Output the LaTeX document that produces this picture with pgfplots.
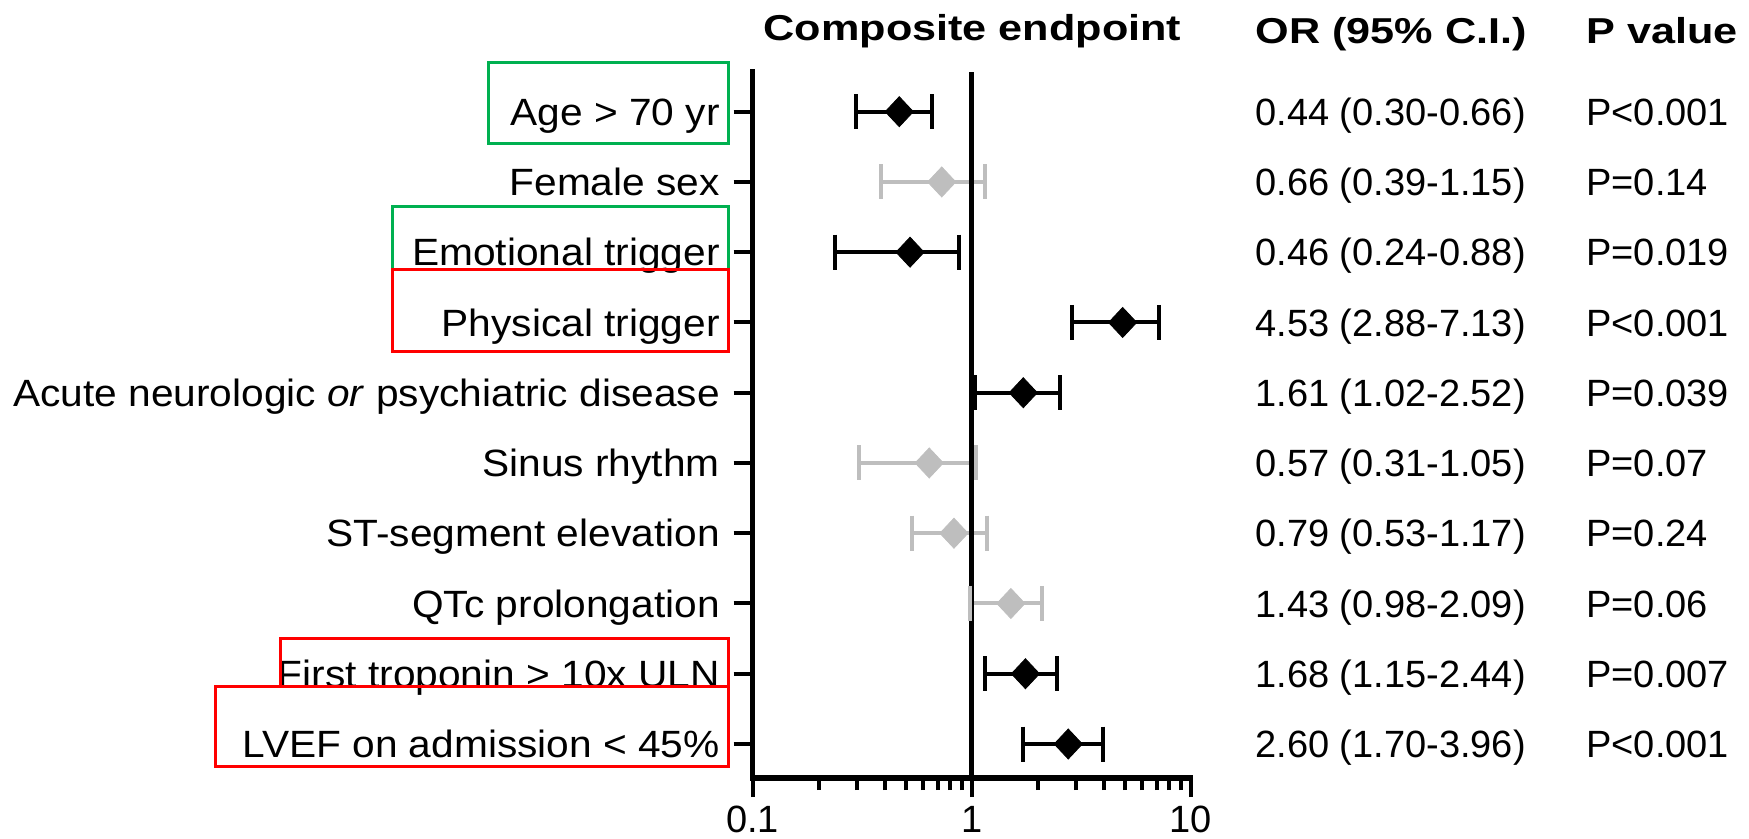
\documentclass[border=0pt]{standalone}
\usepackage{fontspec}
\setmainfont{Liberation Sans}
\newfontfamily\lblfont{Liberation Sans}[FakeStretch=1.07]
\newfontfamily\hdfont{Liberation Sans}[FakeStretch=1.2]
\usepackage{pgfplots}
\usepackage{pgfplotstable}
\pgfplotsset{compat=1.18}
\definecolor{nsgray}{RGB}{190,190,190}
\definecolor{boxgreen}{RGB}{0,176,80}
\definecolor{boxred}{RGB}{255,0,0}
\tikzset{col/.style={anchor=base west, inner sep=0pt, yshift=-6.8pt, font=\fontsize{19}{22}\selectfont}}

% significant rows (black): y position (10 = top row), odds ratio
\pgfplotstableread{
y or
10 0.467
8 0.523
7 4.89
6 1.72
2 1.76
1 2.76
}\sigdata
% confidence intervals of the significant rows (lower, upper; nan = break)
\pgfplotstableread{
x y
0.295 10
0.661 10
nan nan
0.237 8
0.875 8
nan nan
2.88 7
7.19 7
nan nan
1.03 6
2.53 6
nan nan
1.15 2
2.46 2
nan nan
1.72 1
3.99 1
}\sigci
% non-significant rows (grey)
\pgfplotstableread{
y or
9 0.73
5 0.64
4 0.83
3 1.51
}\nsdata
\pgfplotstableread{
x y
0.385 9
1.15 9
nan nan
0.307 5
1.05 5
nan nan
0.535 4
1.18 4
nan nan
0.98 3
2.10 3
}\nsci

\begin{document}
\begin{tikzpicture}
\useasboundingbox (0,0) rectangle (874.5pt,-419.5pt);
\begin{semilogxaxis}[
  at={(376.35pt,-389pt)}, anchor=south west,
  scale only axis, width=219pt, height=353pt,
  xmin=0.1, xmax=10, ymin=0.516, ymax=10.565,
  axis lines=left,
  axis line style={-, line width=2.7pt, line cap=rect},
  tick align=outside,
  major tick length=9.5pt, minor tick length=6pt,
  tick style={black, line width=2pt},
  xtick={0.1,1,10}, xticklabels={0.1,1,10},
  minor xtick={0.2,0.3,0.4,0.5,0.6,0.7,0.8,0.9,2,3,4,5,6,7,8,9},
  ytick={1,2,3,4,5,6,7,8,9,10},
  yticklabels={LVEF on admission < 45\%, First troponin > 10x ULN, QTc prolongation, ST-segment elevation, Sinus rhythm, Acute neurologic \textit{or} psychiatric disease, Physical trigger, Emotional trigger, Female sex, Age > 70 yr},
  yticklabel style={font=\lblfont\fontsize{19}{22}\selectfont, anchor=base east, inner sep=0pt, yshift=-6.8pt, xshift=-6.8pt},
  xticklabel style={font=\fontsize{19}{22}\selectfont, inner sep=0pt, yshift=-4.3pt},
  clip=false,
  unbounded coords=jump,
]
% grey (non-significant) confidence intervals and estimates
\addplot[nsgray, line width=2pt, mark=|, mark size=8.75pt, mark options={line width=2pt}] table[x=x, y=y] {\nsci};
\addplot[only marks, nsgray, mark=diamond*, mark size=7.5pt,
  mark options={xscale=1.25, fill=nsgray, draw=nsgray}] table[x=or, y=y] {\nsdata};
% reference line at OR = 1
\addplot[black, line width=2.3pt, forget plot] coordinates {(1,0.516) (1,10.565)};
% black (significant) confidence intervals and estimates
\addplot[black, line width=2pt, mark=|, mark size=8.75pt, mark options={line width=2pt}] table[x=x, y=y] {\sigci};
\addplot[only marks, black, mark=diamond*, mark size=7.5pt,
  mark options={xscale=1.25, fill=black, draw=black}] table[x=or, y=y] {\sigdata};

% OR and P value columns
\node[col] at (axis cs:19.67,10) {0.44 (0.30-0.66)};
\node[col] at (axis cs:19.67,9) {0.66 (0.39-1.15)};
\node[col] at (axis cs:19.67,8) {0.46 (0.24-0.88)};
\node[col] at (axis cs:19.67,7) {4.53 (2.88-7.13)};
\node[col] at (axis cs:19.67,6) {1.61 (1.02-2.52)};
\node[col] at (axis cs:19.67,5) {0.57 (0.31-1.05)};
\node[col] at (axis cs:19.67,4) {0.79 (0.53-1.17)};
\node[col] at (axis cs:19.67,3) {1.43 (0.98-2.09)};
\node[col] at (axis cs:19.67,2) {1.68 (1.15-2.44)};
\node[col] at (axis cs:19.67,1) {2.60 (1.70-3.96)};
\node[col] at (axis cs:638,10) {P<0.001};
\node[col] at (axis cs:638,9) {P=0.14};
\node[col] at (axis cs:638,8) {P=0.019};
\node[col] at (axis cs:638,7) {P<0.001};
\node[col] at (axis cs:638,6) {P=0.039};
\node[col] at (axis cs:638,5) {P=0.07};
\node[col] at (axis cs:638,4) {P=0.24};
\node[col] at (axis cs:638,3) {P=0.06};
\node[col] at (axis cs:638,2) {P=0.007};
\node[col] at (axis cs:638,1) {P<0.001};
\end{semilogxaxis}

% column headers
\node[anchor=base, inner sep=0pt, font=\hdfont\bfseries\fontsize{18}{21}\selectfont] at (486.25pt,-20.5pt) {Composite endpoint};
\node[anchor=base west, inner sep=0pt, font=\hdfont\bfseries\fontsize{18}{21}\selectfont] at (627.5pt,-22pt) {OR (95\% C.I.)};
\node[anchor=base west, inner sep=0pt, font=\hdfont\bfseries\fontsize{18}{21}\selectfont] at (793pt,-22pt) {P value};

% highlight boxes around labels
\draw[boxgreen, line width=1.5pt] (244pt,-31.15pt) rectangle (364pt,-71.65pt);
\draw[boxgreen, line width=1.5pt] (196pt,-103.35pt) rectangle (364pt,-135pt);
\draw[boxred, line width=1.5pt] (196pt,-135pt) rectangle (364pt,-175.85pt);
\draw[boxred, line width=1.5pt] (140pt,-319pt) rectangle (364pt,-343.35pt);
\draw[boxred, line width=1.5pt] (107.5pt,-343.35pt) rectangle (364pt,-383.35pt);
\end{tikzpicture}
\end{document}
